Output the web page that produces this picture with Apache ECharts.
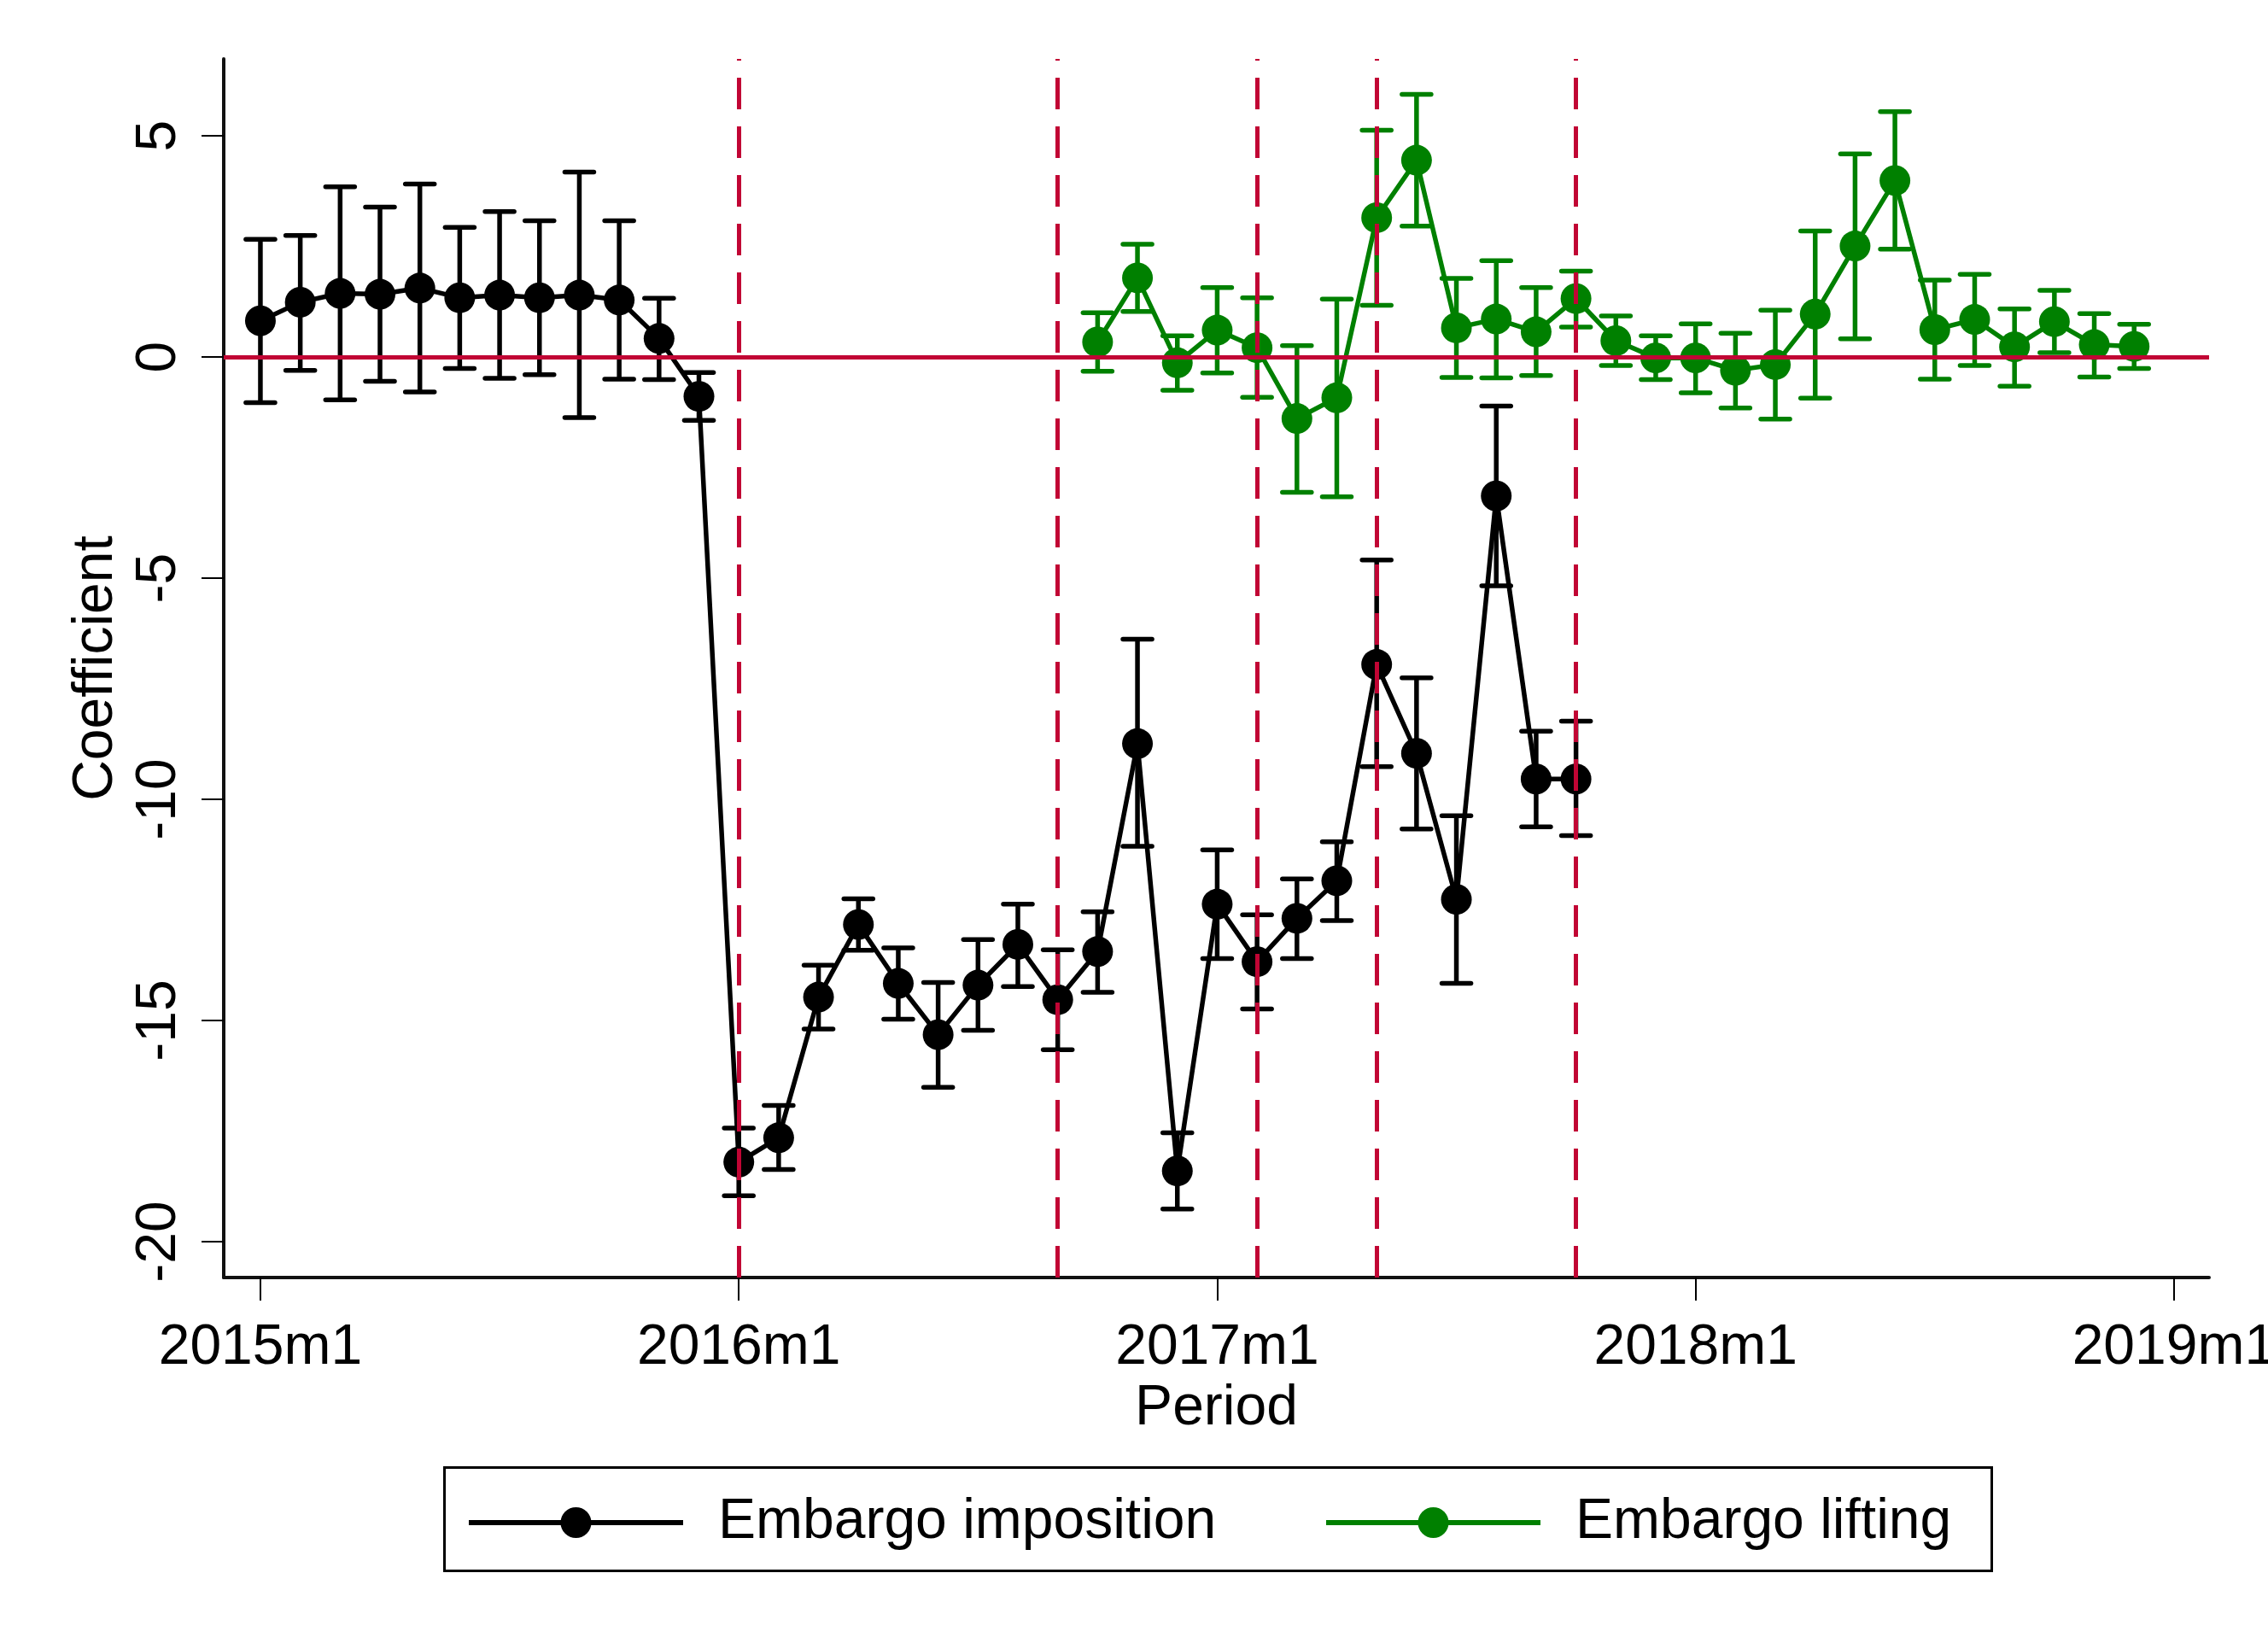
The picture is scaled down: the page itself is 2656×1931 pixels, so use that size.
<!DOCTYPE html>
<html>
<head>
<meta charset="utf-8">
<script src="https://cdn.jsdelivr.net/npm/echarts@6/dist/echarts.min.js"></script>
<style>
html,body{margin:0;padding:0;background:#fff;}
#chart{width:2656px;height:1931px;}
</style>
</head>
<body>
<div id="chart"></div>
<script>
// ---- Data ----
const impPeriods = ['2015m1','2015m2','2015m3','2015m4','2015m5','2015m6','2015m7','2015m8','2015m9','2015m10','2015m11','2015m12',
  '2016m1','2016m2','2016m3','2016m4','2016m5','2016m6','2016m7','2016m8','2016m9','2016m10','2016m11','2016m12',
  '2017m1','2017m2','2017m3','2017m4','2017m5','2017m6','2017m7','2017m8','2017m9','2017m10'];
const impCoef = [0.82,1.24,1.44,1.42,1.56,1.34,1.40,1.34,1.40,1.29,0.42,-0.89,
  -18.20,-17.65,-14.47,-12.83,-14.16,-15.32,-14.20,-13.28,-14.53,-13.44,-8.74,-18.40,
  -12.37,-13.67,-12.69,-11.84,-6.95,-8.96,-12.26,-3.14,-9.54,-9.54];
const impHi = [2.66,2.75,3.85,3.39,3.91,2.93,3.29,3.08,4.18,3.08,1.33,-0.35,
  -17.43,-16.92,-13.75,-12.25,-13.36,-14.14,-13.17,-12.37,-13.40,-12.54,-6.38,-17.54,
  -11.14,-12.61,-11.80,-10.96,-4.59,-7.25,-10.37,-1.11,-8.46,-8.23];
const impLo = [-1.03,-0.30,-0.97,-0.55,-0.79,-0.26,-0.48,-0.40,-1.37,-0.50,-0.51,-1.43,
  -18.96,-18.37,-15.19,-13.41,-14.97,-16.51,-15.22,-14.23,-15.66,-14.36,-11.06,-19.26,
  -13.60,-14.74,-13.60,-12.74,-9.26,-10.67,-14.16,-5.17,-10.62,-10.82];

const liftPeriods = ['2016m10','2016m11','2016m12','2017m1','2017m2','2017m3','2017m4','2017m5','2017m6','2017m7','2017m8','2017m9','2017m10',
  '2017m11','2017m12','2018m1','2018m2','2018m3','2018m4','2018m5','2018m6','2018m7','2018m8','2018m9','2018m10','2018m11','2018m12'];
const liftCoef = [0.34,1.79,-0.13,0.61,0.21,-1.39,-0.92,3.15,4.45,0.66,0.86,0.57,1.32,
  0.37,-0.02,-0.02,-0.30,-0.17,0.97,2.51,3.99,0.62,0.85,0.23,0.80,0.28,0.24];
const liftHi = [1.00,2.55,0.48,1.57,1.34,0.26,1.31,5.13,5.94,1.78,2.18,1.57,1.94,
  0.93,0.48,0.75,0.54,1.06,2.85,4.59,5.55,1.74,1.87,1.09,1.51,0.98,0.74];
const liftLo = [-0.32,1.03,-0.75,-0.36,-0.91,-3.06,-3.16,1.17,2.96,-0.46,-0.47,-0.42,0.68,
  -0.19,-0.51,-0.81,-1.15,-1.40,-0.93,0.41,2.44,-0.50,-0.19,-0.66,0.10,-0.45,-0.26];

const eventPeriods = ['2016m1','2016m9','2017m2','2017m5','2017m10'];
const xTickLabels = ['2015m1','2016m1','2017m1','2018m1','2019m1'];
const yTickValues = [-20,-15,-10,-5,0,5];
const seriesNames = ['Embargo imposition','Embargo lifting'];

// ---- Helpers ----
function monthIndex(p){ const [y,m]=p.split('m'); return (parseInt(y)-2015)*12 + parseInt(m)-1; }
function monthLabel(i){ return (2015 + Math.floor(i/12)) + 'm' + (i%12+1); }

const FONT = "'Liberation Sans', Arial, Helvetica, sans-serif";
const RED = '#c10534';
const GREEN = '#008000';
const BLACK = '#000000';
const LW = 5.5;

const impLine = impPeriods.map((p,i)=>[monthIndex(p), impCoef[i]]);
const impBars = impPeriods.map((p,i)=>[monthIndex(p), impLo[i], impHi[i]]);
const liftLine = liftPeriods.map((p,i)=>[monthIndex(p), liftCoef[i]]);
const liftBars = liftPeriods.map((p,i)=>[monthIndex(p), liftLo[i], liftHi[i]]);

function capRender(color){
  return function(params, api){
    const x = api.value(0), lo = api.value(1), hi = api.value(2);
    const pLo = api.coord([x, lo]), pHi = api.coord([x, hi]);
    const hw = 17;
    const st = {stroke: color, lineWidth: LW, lineCap: 'round'};
    return {type:'group', children:[
      {type:'line', shape:{x1:pLo[0], y1:pLo[1], x2:pHi[0], y2:pHi[1]}, style:{stroke: color, lineWidth: LW}},
      {type:'line', shape:{x1:pHi[0]-hw, y1:pHi[1], x2:pHi[0]+hw, y2:pHi[1]}, style:st},
      {type:'line', shape:{x1:pLo[0]-hw, y1:pLo[1], x2:pLo[0]+hw, y2:pLo[1]}, style:st}
    ]};
  };
}

const chart = echarts.init(document.getElementById('chart'), null, {renderer:'canvas'});
const option = {
  animation: false,
  backgroundColor: '#ffffff',
  textStyle: {fontFamily: FONT},
  grid: {left: 262, right: 69, top: 69, bottom: 435, containLabel: false, outerBoundsMode: 'none'},
  xAxis: {
    type: 'value', min: -0.92, max: 48.88,
    name: 'Period', nameLocation: 'middle', nameGap: 113,
    nameTextStyle: {fontSize: 66, color: BLACK, fontFamily: FONT},
    axisLine: {show: true, onZero: false, lineStyle: {color: '#111', width: 4}},
    axisTick: {show: true, length: 27, lineStyle: {color: BLACK, width: 2},
      customValues: xTickLabels.map(monthIndex)},
    axisLabel: {show: true, fontSize: 66, color: BLACK, margin: 50, fontFamily: FONT,
      customValues: xTickLabels.map(monthIndex), formatter: v => monthLabel(Math.round(v))},
    splitLine: {show: false}
  },
  yAxis: {
    type: 'value', min: -20.81, max: 6.74,
    name: 'Coefficient', nameLocation: 'middle', nameGap: 116,
    nameTextStyle: {fontSize: 66, color: BLACK, fontFamily: FONT},
    axisLine: {show: true, onZero: false, lineStyle: {color: '#111', width: 4}},
    axisTick: {show: true, length: 26, lineStyle: {color: BLACK, width: 2},
      customValues: yTickValues},
    axisLabel: {show: true, fontSize: 66, color: BLACK, margin: 42, rotate: 90, fontFamily: FONT,
      customValues: yTickValues, formatter: v => String(v)},
    splitLine: {show: false}
  },
  legend: [
    {data: [seriesNames[0]], left: 546, top: 1750, padding: 0, itemWidth: 251, itemHeight: 45,
     lineStyle: {width: 6},
     textStyle: {fontSize: 66, color: BLACK, fontFamily: FONT, padding: [0,0,0,36]}, selectedMode: false},
    {data: [seriesNames[1]], left: 1550, top: 1750, padding: 0, itemWidth: 251, itemHeight: 45,
     lineStyle: {width: 6},
     textStyle: {fontSize: 66, color: BLACK, fontFamily: FONT, padding: [0,0,0,36]}, selectedMode: false}
  ],
  graphic: [
    {type: 'rect', left: 518, top: 1716, shape: {width: 1812, height: 121},
     style: {fill: 'none', stroke: BLACK, lineWidth: 3}, z: 100}
  ],
  series: [
    {
      type: 'line', name: 'refLines', data: [], silent: true, z: 1,
      markLine: {
        silent: true, symbol: ['none','none'], label: {show: false},
        data: [
          {yAxis: 0, lineStyle: {color: RED, width: 5, type: 'solid'}},
          ...eventPeriods.map(p => ({xAxis: monthIndex(p), lineStyle: {color: RED, width: 5, type: [37, 20]}}))
        ]
      }
    },
    {type: 'custom', name: 'impCI', data: impBars, renderItem: capRender(BLACK), z: 2, silent: true,
     encode: {x: 0, y: [1, 2]}},
    {type: 'custom', name: 'liftCI', data: liftBars, renderItem: capRender(GREEN), z: 2, silent: true,
     encode: {x: 0, y: [1, 2]}},
    {type: 'line', name: seriesNames[0], data: impLine, z: 3, symbol: 'circle', symbolSize: 36,
     showSymbol: true, lineStyle: {color: BLACK, width: LW}, itemStyle: {color: BLACK}},
    {type: 'line', name: seriesNames[1], data: liftLine, z: 3, symbol: 'circle', symbolSize: 36,
     showSymbol: true, lineStyle: {color: GREEN, width: LW}, itemStyle: {color: GREEN}}
  ]
};
chart.setOption(option);
</script>
</body>
</html>
